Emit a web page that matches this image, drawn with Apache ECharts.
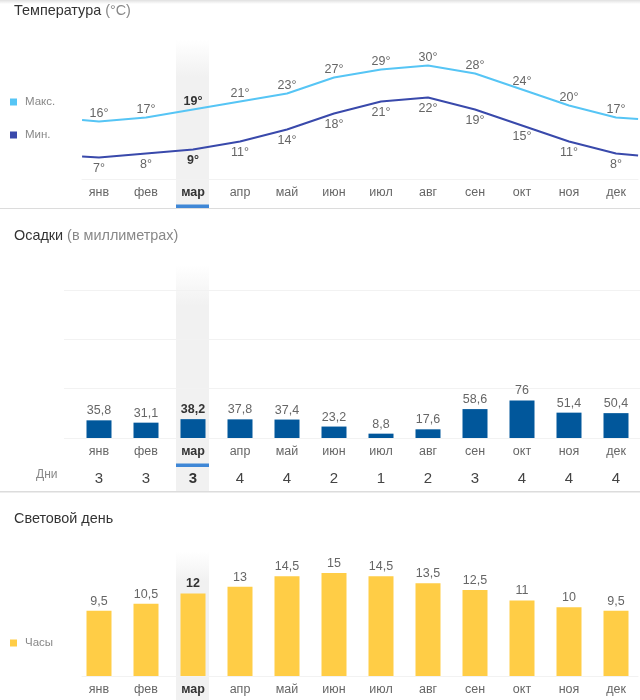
<!DOCTYPE html>
<html>
<head>
<meta charset="utf-8">
<title>Климат</title>
<style>
html, body { margin: 0; padding: 0; background: #fff; }
#main { width: 640px; height: 700px; }
</style>
<script src="https://cdn.jsdelivr.net/npm/echarts@6/dist/echarts.min.js"></script>
</head>
<body>
<div id="main"></div>
<script>
// данные
var months = ['янв', 'фев', 'мар', 'апр', 'май', 'июн', 'июл', 'авг', 'сен', 'окт', 'ноя', 'дек'];
var tempMax = [16, 17, 19, 21, 23, 27, 29, 30, 28, 24, 20, 17];
var tempMin = [7, 8, 9, 11, 14, 18, 21, 22, 19, 15, 11, 8];
// линии температуры уходят за янв и дек: [x, значение]
var tempMaxEdges = [[-0.36, 16.4], [11.47, 16.6]];
var tempMinEdges = [[-0.36, 7.25], [11.47, 7.5]];
var rain = [35.8, 31.1, 38.2, 37.8, 37.4, 23.2, 8.8, 17.6, 58.6, 76, 51.4, 50.4];
var rainDays = [3, 3, 3, 4, 4, 2, 1, 2, 3, 4, 4, 4];
var daylight = [9.5, 10.5, 12, 13, 14.5, 15, 14.5, 13.5, 12.5, 11, 10, 9.5];
var current = 2; // выделенный месяц

var FONT = '"Liberation Sans", Arial, sans-serif';
var GRAY = '#666';
var DARK = '#333';
var BLUE_MAX = '#56c5f5';
var BLUE_MIN = '#3949ab';
var BLUE_BAR = '#01579b';
var YELLOW = '#ffcd46';
var LIGHT = '#f1f1f1';

function comma(v) {
	return String(v).replace('.', ',');
}

// подписи оси: выделенный месяц жирным
function labelData(list, color) {
	return list.map(function (m, i) {
		return i === current
			? { value: String(m), textStyle: { fontWeight: 'bold', color: DARK } }
			: { value: String(m), textStyle: { color: color } };
	});
}

function monthAxis(grid) {
	return {
		type: 'category', gridIndex: grid, data: labelData(months, GRAY),
		axisLine: { show: false }, axisTick: { show: false },
		axisLabel: { fontFamily: FONT, fontSize: 12.5, margin: 7, interval: 0 }
	};
}

function valueY(grid, min, max, extra) {
	return Object.assign({
		type: 'value', gridIndex: grid, min: min, max: max, show: false, splitLine: { show: false }
	}, extra || {});
}

// тонкая базовая линия
function baseX(grid) {
	return {
		type: 'value', gridIndex: grid, min: 0, max: 1, position: 'bottom',
		axisLine: { show: true, onZero: false, lineStyle: { color: '#f2f2f2', width: 1 } },
		axisTick: { show: false }, axisLabel: { show: false }, splitLine: { show: false }
	};
}

function lineData(values, edges, pos, dist) {
	var out = [{ value: edges[0], label: { show: false } }];
	values.forEach(function (v, i) {
		out.push({
			value: [i, v],
			label: {
				show: true, position: pos, distance: dist,
				fontFamily: FONT, fontSize: 12.5,
				fontWeight: i === current ? 'bold' : 'normal',
				color: i === current ? DARK : GRAY,
				formatter: v + '°'
			}
		});
	});
	out.push({ value: edges[1], label: { show: false } });
	return out;
}

function barData(values) {
	return values.map(function (v, i) {
		return {
			value: v,
			label: {
				show: true, position: 'top', distance: 3,
				fontFamily: FONT, fontSize: 12.5,
				fontWeight: i === current ? 'bold' : 'normal',
				color: i === current ? DARK : GRAY,
				formatter: comma(v)
			}
		};
	});
}

function titleItem(top, main, note) {
	return {
		text: main + (note ? ' {g|' + note + '}' : ''),
		left: 14, top: top, padding: 0,
		textStyle: {
			fontFamily: FONT, fontSize: 14.4, fontWeight: 'normal', color: DARK,
			rich: { g: { fontFamily: FONT, fontSize: 14.4, color: '#888' } }
		}
	};
}

function legendItem(top, names) {
	return {
		left: 10, top: top, orient: 'vertical', itemWidth: 7, itemHeight: 7, itemGap: 21, padding: 0,
		icon: 'rect', selectedMode: false, data: names,
		textStyle: { fontFamily: FONT, fontSize: 11.5, color: '#888', padding: [0, 0, 0, 3] }
	};
}

// колонка выделенного месяца
function band(y1, y2, fade) {
	return {
		type: 'rect', z: -10, silent: true,
		shape: { x: 176, y: y1, width: 33, height: y2 - y1 },
		style: {
			fill: new echarts.graphic.LinearGradient(0, 0, 0, 1, [
				{ offset: 0, color: 'rgba(241,241,241,0)' },
				{ offset: fade, color: LIGHT },
				{ offset: 1, color: LIGHT }
			])
		}
	};
}

function rect(x, y, w, h, fill, z) {
	return { type: 'rect', z: z, silent: true, shape: { x: x, y: y, width: w, height: h }, style: { fill: fill } };
}

var myChart = echarts.init(document.getElementById('main'), null, { renderer: 'canvas' });

myChart.setOption({
	animation: false,
	backgroundColor: '#fff',
	title: [
		titleItem(4, 'Температура', '(°C)'),
		titleItem(229, 'Осадки', '(в миллиметрах)'),
		titleItem(512, 'Световой день')
	],
	legend: [
		legendItem(96, ['Макс.', 'Мин.']),
		legendItem(637, ['Часы'])
	],
	grid: [
		{ left: 75.5, right: 0.5, top: 35, height: 144 },
		{ left: 75.5, right: 0.5, top: 290, height: 148 },
		{ left: 75.5, right: 0.5, top: 566, height: 110 },
		{ left: 82, right: 2, top: 35, height: 144 },
		{ left: 64, right: 0, top: 290, height: 148 },
		{ left: 82, right: 2, top: 566, height: 110 }
	],
	xAxis: [
		monthAxis(0),
		{ type: 'value', gridIndex: 0, min: -0.5, max: 11.5, show: false, splitLine: { show: false } },
		monthAxis(1),
		{
			type: 'category', gridIndex: 1, position: 'bottom', offset: 26, data: labelData(rainDays, '#444'),
			axisLine: { show: false }, axisTick: { show: false },
			axisLabel: { fontFamily: FONT, fontSize: 15, margin: 7, interval: 0 }
		},
		monthAxis(2),
		baseX(3),
		{ type: 'value', gridIndex: 4, min: 0, max: 1, show: false, splitLine: { show: false } },
		baseX(5)
	],
	yAxis: [
		valueY(0, 1.625, 37.625),
		valueY(1, 0, 300),
		valueY(2, 0, 16),
		valueY(3, 0, 1),
		{
			type: 'value', gridIndex: 4, min: 0, max: 300, interval: 100,
			axisLine: { show: false }, axisTick: { show: false }, axisLabel: { show: false },
			splitLine: { show: true, lineStyle: { color: '#f2f2f2', width: 1 } }
		},
		valueY(5, 0, 1)
	],
	series: [
		{
			name: 'Макс.', type: 'line', xAxisIndex: 1, yAxisIndex: 0,
			data: lineData(tempMax, tempMaxEdges, 'top', 1),
			symbol: 'circle', symbolSize: 0, showSymbol: true,
			itemStyle: { color: BLUE_MAX }, lineStyle: { color: BLUE_MAX, width: 2 }
		},
		{
			name: 'Мин.', type: 'line', xAxisIndex: 1, yAxisIndex: 0,
			data: lineData(tempMin, tempMinEdges, 'bottom', 5),
			symbol: 'circle', symbolSize: 0, showSymbol: true,
			itemStyle: { color: BLUE_MIN }, lineStyle: { color: BLUE_MIN, width: 2 }
		},
		{
			name: 'Осадки', type: 'bar', xAxisIndex: 2, yAxisIndex: 1, barWidth: 25,
			data: barData(rain), itemStyle: { color: BLUE_BAR }
		},
		{
			name: 'Часы', type: 'bar', xAxisIndex: 4, yAxisIndex: 2, barWidth: 25,
			data: barData(daylight), itemStyle: { color: YELLOW }
		}
	],
	graphic: [
		{
			type: 'group', silent: true,
			children: [
				rect(0, 208, 640, 1, '#dcdcdc', -5),
				rect(0, 491, 640, 1.5, '#dcdcdc', -5),
				band(40, 208, 0.22),
				band(265, 491, 0.18),
				band(552, 700, 0.2),
				rect(176, 204.5, 33, 3.5, '#3f87d6', 5),
				rect(176, 463.5, 33, 3.5, '#3f87d6', 5),
				{
					type: 'rect', z: 5, silent: true, shape: { x: 0, y: 0, width: 640, height: 4 },
					style: {
						fill: new echarts.graphic.LinearGradient(0, 0, 0, 1, [
							{ offset: 0, color: 'rgba(0,0,0,0.12)' },
							{ offset: 1, color: 'rgba(0,0,0,0)' }
						])
					}
				},
				{
					type: 'text', z: 5, silent: true,
					style: { x: 36, y: 475, text: 'Дни', fill: '#888', font: '12px ' + FONT, verticalAlign: 'middle' }
				}
			]
		}
	]
});
</script>
</body>
</html>
